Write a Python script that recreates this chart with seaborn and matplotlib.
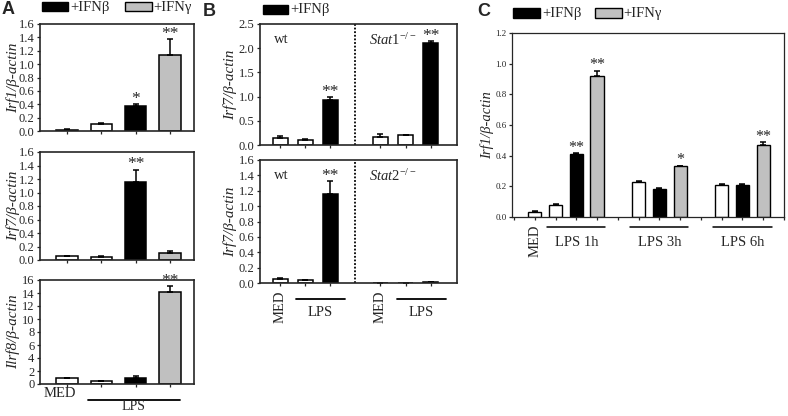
import numpy as np
import pandas as pd
import matplotlib
matplotlib.use("Agg")
import matplotlib.pyplot as plt
import seaborn as sns
from matplotlib.patches import Rectangle
from matplotlib.lines import Line2D

# ---------------- data ----------------
A_conditions = ["MED", "LPS", "LPS+IFNβ", "LPS+IFNγ"]
A_treat = ["none", "none", "IFNb", "IFNg"]
irf1_A = [0.02, 0.11, 0.37, 1.14]
irf1_A_err = [0.005, 0.005, 0.03, 0.23]
irf1_A_sig = ["", "", "*", "**"]
irf7_A = [0.06, 0.05, 1.16, 0.11]
irf7_A_err = [0.005, 0.005, 0.18, 0.03]
irf7_A_sig = ["", "", "**", ""]
irf8_A = [0.9, 0.4, 0.9, 14.2]
irf8_A_err = [0.1, 0.05, 0.4, 0.9]
irf8_A_sig = ["", "", "", "**"]

B_conditions = ["wt MED", "wt LPS", "wt LPS+IFNβ", "ko MED", "ko LPS", "ko LPS+IFNβ"]
B_order = ["wt MED", "wt LPS", "wt LPS+IFNβ", "sep", "ko MED", "ko LPS", "ko LPS+IFNβ"]
B_treat = ["none", "none", "IFNb", "none", "none", "IFNb"]
irf7_stat1 = [0.15, 0.11, 0.93, 0.17, 0.20, 2.10]
irf7_stat1_err = [0.03, 0.02, 0.06, 0.05, 0.01, 0.04]
irf7_stat1_sig = ["", "", "**", "", "", "**"]
irf7_stat2 = [0.05, 0.04, 1.16, 0.003, 0.003, 0.008]
irf7_stat2_err = [0.01, 0.005, 0.17, 0.001, 0.001, 0.002]
irf7_stat2_sig = ["", "", "**", "", "", ""]

C_conditions = ["MED", "1h", "1h+IFNβ", "1h+IFNγ", "3h", "3h+IFNβ", "3h+IFNγ",
                "6h", "6h+IFNβ", "6h+IFNγ"]
C_order = ["MED", "1h", "1h+IFNβ", "1h+IFNγ", "gap1", "3h", "3h+IFNβ", "3h+IFNγ",
           "gap2", "6h", "6h+IFNβ", "6h+IFNγ"]
C_treat = ["none", "none", "IFNb", "IFNg", "none", "IFNb", "IFNg", "none", "IFNb", "IFNg"]
irf1_C = [0.035, 0.08, 0.41, 0.92, 0.23, 0.18, 0.33, 0.21, 0.21, 0.47]
irf1_C_err = [0.003, 0.008, 0.005, 0.035, 0.007, 0.008, 0.005, 0.005, 0.003, 0.02]
irf1_C_sig = ["", "", "**", "**", "", "", "*", "", "", "**"]
C_groups = ["LPS 1h", "LPS 3h", "LPS 6h"]

palette = {"none": "white", "IFNb": "black", "IFNg": "#c0c0c0"}

# ---------------- style ----------------
sns.set_style("ticks")
plt.rcParams["font.family"] = ["Liberation Serif", "DejaVu Serif"]
plt.rcParams["mathtext.fontset"] = "custom"
plt.rcParams["mathtext.rm"] = "Liberation Serif"
plt.rcParams["mathtext.it"] = "Liberation Serif:italic"

W, H = 788, 416
fig = plt.figure(figsize=(W / 100, H / 100), dpi=100)


def axes_px(left, top, right, bottom):
    return fig.add_axes([left / W, 1 - bottom / H, (right - left) / W, (bottom - top) / H])


def fpt(x, y):
    return x / W, 1 - y / H


def bars(ax, order, names, treat, vals, errs, sigs, width, star_fs, lw=1.1):
    df = pd.DataFrame({"cond": names, "treat": treat, "val": vals})
    sns.barplot(data=df, x="cond", y="val", hue="treat", palette=palette, order=order,
                hue_order=["none", "IFNb", "IFNg"], dodge=False, width=width,
                edgecolor="black", linewidth=lw, legend=False, errorbar=None, ax=ax,
                saturation=1)
    xs = [order.index(n) for n in names]
    ax.errorbar(xs, vals, yerr=[np.zeros(len(vals)), errs], fmt="none", ecolor="black",
                elinewidth=1.1, capsize=2.2, capthick=1.1, zorder=1)
    for x, v, e, s in zip(xs, vals, errs, sigs):
        if s:
            ax.annotate(s, xy=(x, v + e), xytext=(0, -2), textcoords="offset points",
                        ha="center", va="bottom", fontsize=star_fs)
    ax.set_xlabel("")
    ax.set_ylabel("")
    for sp in ax.spines.values():
        sp.set_linewidth(1.2)
        sp.set_visible(True)
    ax.tick_params(axis="both", direction="out", length=2.5, width=0.9, pad=1.5)


# ---------------- panel A ----------------
axA1 = axes_px(40, 24, 194, 131)
axA2 = axes_px(40, 152, 194, 260)
axA3 = axes_px(40, 280, 194, 384)
for ax, vals, errs, sigs, ymax, step, lab in [
        (axA1, irf1_A, irf1_A_err, irf1_A_sig, 1.6, 0.2, "Irf1/β-actin"),
        (axA2, irf7_A, irf7_A_err, irf7_A_sig, 1.6, 0.2, "Irf7/β-actin"),
        (axA3, irf8_A, irf8_A_err, irf8_A_sig, 16, 2, "Ilrf8/β-actin")]:
    bars(ax, A_conditions, A_conditions, A_treat, vals, errs, sigs, 0.63, 12.5)
    ax.set_xlim(-0.79, 3.7)
    ax.set_ylim(0, ymax)
    ticks = np.arange(0, ymax + step / 2, step)
    ax.set_yticks(ticks)
    if step < 1:
        ax.set_yticklabels([f"{t:.1f}" for t in ticks], fontsize=9)
    else:
        ax.set_yticklabels([f"{int(t)}" for t in ticks], fontsize=9)
    ax.set_xticks(range(4))
    ax.set_xticklabels([])
    pos = ax.get_position()
    fig.text(13 / W, (pos.y0 + pos.y1) / 2, lab, rotation=90, ha="center", va="center",
             fontsize=11, style="italic")

trA = axA3.get_xaxis_transform()
axA3.text(-0.2, -0.095, "MED", transform=trA, ha="center", va="center", fontsize=10.5)
axA3.add_line(Line2D([0.61, 3.3], [-0.15, -0.15], transform=trA, color="black",
                     lw=1.3, clip_on=False))
axA3.text(1.93, -0.215, "LPS", transform=trA, ha="center", va="center", fontsize=10)

# ---------------- panel B ----------------
axB1 = axes_px(260, 24, 457, 145)
axB2 = axes_px(260, 160, 457, 283)
for ax, vals, errs, sigs, ymax, step, ko in [
        (axB1, irf7_stat1, irf7_stat1_err, irf7_stat1_sig, 2.5, 0.5, r"$\mathit{Stat1}^{-/-}$"),
        (axB2, irf7_stat2, irf7_stat2_err, irf7_stat2_sig, 1.6, 0.2, r"$\mathit{Stat2}^{-/-}$")]:
    bars(ax, B_order, B_conditions, B_treat, vals, errs, sigs, 0.6, 12.5)
    ax.set_xlim(-0.8, 7.05)
    ax.set_ylim(0, ymax)
    ticks = np.arange(0, ymax + step / 2, step)
    ax.set_yticks(ticks)
    ax.set_yticklabels([f"{t:.1f}" for t in ticks], fontsize=9)
    ax.set_xticks([0, 1, 2, 4, 5, 6])
    ax.set_xticklabels([])
    ax.axvline(3, color="black", lw=1.3, ls=(0, (1.0, 1.0)))
    ax.text(-0.25, 0.87, "wt", transform=ax.get_xaxis_transform(), ha="left",
            va="center", fontsize=10.5)
    ax.text(3.55, 0.87, ko, transform=ax.get_xaxis_transform(), ha="left",
            va="center", fontsize=10.5)
    pos = ax.get_position()
    fig.text(230 / W, (pos.y0 + pos.y1) / 2, "Irf7/β-actin", rotation=90, ha="center",
             va="center", fontsize=11, style="italic")

trB = axB2.get_xaxis_transform()
for off in [0, 4]:
    axB2.text(0 + off, -0.195, "MED", transform=trB, rotation=90, ha="center",
              va="center", fontsize=10.5)
    axB2.add_line(Line2D([0.64 + off, 2.6 + off], [-0.13, -0.13], transform=trB,
                         color="black", lw=1.3, clip_on=False))
    axB2.text(1.62 + off, -0.24, "LPS", transform=trB, ha="center", va="center",
              fontsize=10.5)

# ---------------- panel C ----------------
axC = axes_px(512, 33, 784, 217)
bars(axC, C_order, C_conditions, C_treat, irf1_C, irf1_C_err, irf1_C_sig, 0.64, 11.5, lw=1.0)
axC.set_xlim(-1.1, 12.0)
axC.set_ylim(0, 1.2)
ticks = np.arange(0, 1.21, 0.2)
axC.set_yticks(ticks)
axC.set_yticklabels([f"{t:.1f}" for t in ticks], fontsize=6.5)
axC.set_xticks(range(-1, 13))
axC.set_xticklabels([])
for sp in axC.spines.values():
    sp.set_linewidth(0.9)
fig.text(487 / W, 1 - 125 / H, "Irf1/β-actin", rotation=90, ha="center", va="center",
         fontsize=10.5, style="italic")
trC = axC.get_xaxis_transform()
axC.text(0, -0.13, "MED", transform=trC, rotation=90, ha="center", va="center",
         fontsize=10.5)
for c, g in zip([2, 6, 10], C_groups):
    axC.add_line(Line2D([c - 1.4, c + 1.4], [-0.054, -0.054], transform=trC,
                        color="black", lw=1.1, clip_on=False))
    axC.text(c, -0.14, g, transform=trC, ha="center", va="center", fontsize=10.5)

# ---------------- legends & panel letters ----------------
def legend_box(x0, x1, y0, y1, color):
    fig.patches.append(Rectangle(fpt(x0, y1), (x1 - x0) / W, (y1 - y0) / H,
                                 transform=fig.transFigure, facecolor=color,
                                 edgecolor="black", lw=1.0))

legend_box(42, 68, 2, 11, "black")
fig.text(*fpt(70, 7), "+IFNβ", ha="left", va="center", fontsize=10.5)
legend_box(125, 152, 2, 11, "#c0c0c0")
fig.text(*fpt(153, 7), "+IFNγ", ha="left", va="center", fontsize=10.5)

legend_box(263, 288, 5, 14, "black")
fig.text(*fpt(290, 10), "+IFNβ", ha="left", va="center", fontsize=10.5)

legend_box(513, 540, 8, 18, "black")
fig.text(*fpt(542, 13), "+IFNβ", ha="left", va="center", fontsize=10.5)
legend_box(595, 622, 8, 18, "#c0c0c0")
fig.text(*fpt(623, 13), "+IFNγ", ha="left", va="center", fontsize=10.5)

for x, y, s in [(8, 10, "A"), (209, 11, "B"), (484, 12, "C")]:
    fig.text(*fpt(x, y), s, ha="center", va="center", fontsize=13, fontweight="bold",
             family=["Liberation Sans", "DejaVu Sans"])

fig.savefig("out.png", dpi=100)
